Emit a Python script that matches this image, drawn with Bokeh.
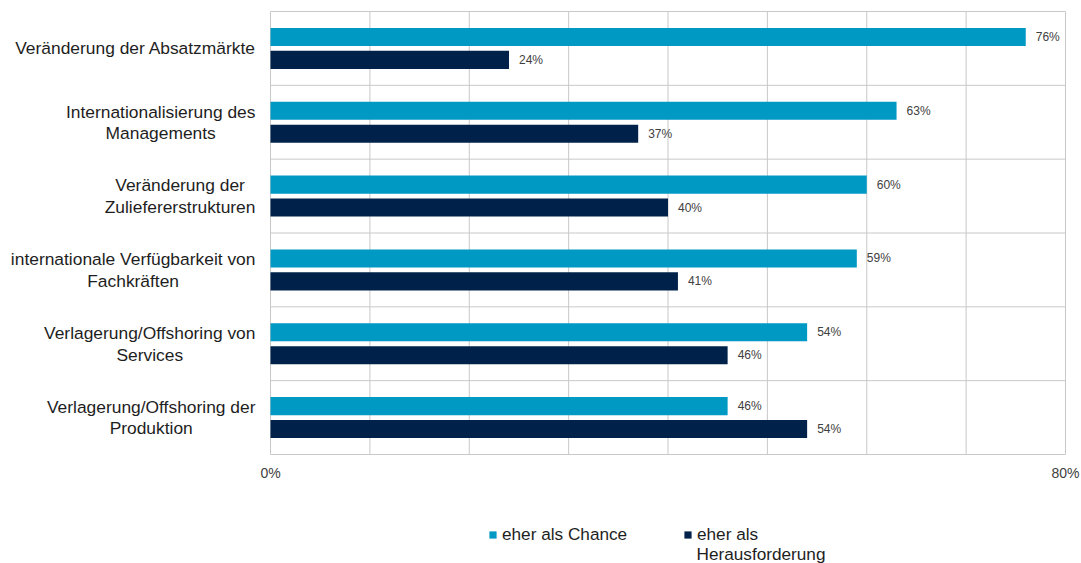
import numpy as np
from bokeh.plotting import figure
from bokeh.models import (ColumnDataSource, LabelSet, Legend, LegendItem,
                          Label, Range1d)
from bokeh.core.properties import value
from bokeh.embed import file_html
from bokeh.resources import INLINE

categories = [
    "Veränderung der Absatzmärkte",
    "Internationalisierung des\nManagements",
    "Veränderung der\nZuliefererstrukturen",
    "internationale Verfügbarkeit von\nFachkräften",
    "Verlagerung/Offshoring von\nServices",
    "Verlagerung/Offshoring der\nProduktion",
]
chance = [76, 63, 60, 59, 54, 46]
herausforderung = [24, 37, 40, 41, 46, 54]
series_names = ["eher als Chance", "eher als", "Herausforderung"]
x_ticks = [0, 10, 20, 30, 40, 50, 60, 70, 80]
x_tick_labels = {0: "0%", 80: "80%"}

FONT = "Liberation Sans"
C1 = "#0099C4"
C2 = "#00224A"
GRID = "#c8c8c8"
CAT_SIZE = 17.4
LINE_GAP = 21.5

W, H = 1081, 563
# plot area in pixels
L, R, T, B = 270, 1065, 11, 454
n = len(categories)
xmax = x_ticks[-1]
pxx = (R - L) / xmax
pxy = (B - T) / n


def text_width(s, size=16):
    try:
        from PIL import ImageFont
        f = ImageFont.truetype("LiberationSans-Regular.ttf", 100)
        return f.getlength(s) * size / 100
    except Exception:
        return 0.5 * size * len(s)


idx = np.arange(n)
off = 0.155
bh = 0.245

p = figure(width=W, height=H, output_backend="svg", toolbar_location=None,
           x_range=Range1d(-L / pxx, (W - L) / pxx),
           y_range=Range1d(n + (H - B) / pxy, -T / pxy),
           min_border=0)
p.outline_line_color = None
p.xaxis.visible = False
p.yaxis.visible = False
p.xgrid.visible = False
p.ygrid.visible = False
p.background_fill_color = "white"

# grid lines (only inside the plot area)
p.segment(x0=x_ticks, x1=x_ticks, y0=[0] * len(x_ticks), y1=[n] * len(x_ticks),
          line_color=GRID, line_width=1)
p.segment(x0=[0] * (n + 1), x1=[xmax] * (n + 1), y0=list(range(n + 1)),
          y1=list(range(n + 1)), line_color=GRID, line_width=1)

src1 = ColumnDataSource(dict(y=idx + 0.5 - off, v=chance,
                             t=[f"{v}%" for v in chance]))
src2 = ColumnDataSource(dict(y=idx + 0.5 + off, v=herausforderung,
                             t=[f"{v}%" for v in herausforderung]))

r1 = p.hbar(y="y", left=0, right="v", height=bh, source=src1,
            fill_color=C1, line_color=None)
r2 = p.hbar(y="y", left=0, right="v", height=bh, source=src2,
            fill_color=C2, line_color=None)

for s in (src1, src2):
    p.add_layout(LabelSet(x="v", y="y", text="t", source=s, x_offset=10,
                          text_baseline="middle", text_align="left",
                          text_font=value(FONT), text_font_size="12px",
                          text_color="#404040"))

# x tick labels
tick_src = ColumnDataSource(dict(x=list(x_tick_labels.keys()),
                                 y=[n] * len(x_tick_labels),
                                 t=list(x_tick_labels.values())))
p.add_layout(LabelSet(x="x", y="y", text="t", source=tick_src, y_offset=-18,
                      text_align="center", text_baseline="middle",
                      text_font=value(FONT), text_font_size="14px",
                      text_color="#404040"))

# category labels: block right edge 15px left of plot area, lines centred
lx, ly, lt = [], [], []
for i, c in enumerate(categories):
    lines = c.split("\n")
    w = max(text_width(line, CAT_SIZE) for line in lines)
    k = len(lines)
    for j, line in enumerate(lines):
        lx.append(L - 15 - w / 2)
        ly.append(i + 0.5 + (j - (k - 1) / 2) * LINE_GAP / pxy)
        lt.append(line)
src_c = ColumnDataSource(dict(x=lx, y=ly, t=lt))
p.add_layout(LabelSet(x="x", y="y", text="t", source=src_c,
                      x_units="screen", y_units="data",
                      text_align="center", text_baseline="middle",
                      text_font=value(FONT), text_font_size=f"{CAT_SIZE}px",
                      text_color="#1e1e1e"))

# legend
legend = Legend(items=[LegendItem(label=series_names[0], renderers=[r1]),
                       LegendItem(label=series_names[1], renderers=[r2])],
                orientation="horizontal", location=(488, H - 545),
                glyph_width=9, glyph_height=9, label_standoff=5,
                label_width=178, label_height=20, spacing=3,
                padding=0, margin=0, border_line_color=None,
                background_fill_alpha=0,
                label_text_font=FONT, label_text_font_size="17.2px",
                label_text_color="#1e1e1e")
p.add_layout(legend)
p.add_layout(Label(x=696, y=H - 553, x_units="screen", y_units="screen",
                   text=series_names[2], text_font=FONT,
                   text_font_size="17.2px", text_color="#1e1e1e",
                   text_baseline="middle", text_align="left"))

open("out.html", "w").write(file_html(p, INLINE))
